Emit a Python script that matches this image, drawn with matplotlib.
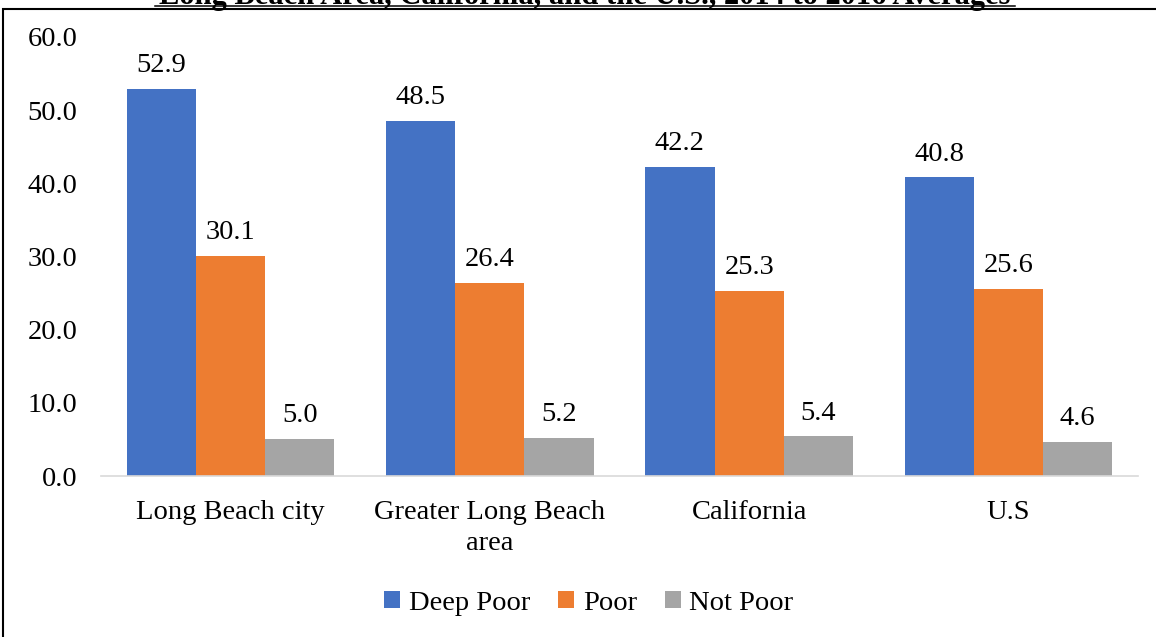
import matplotlib.pyplot as plt
import numpy as np
from matplotlib.patches import Rectangle

plt.rcParams['font.family'] = ['Liberation Serif', 'DejaVu Serif']

areas = ["Long Beach city", "Greater Long Beach\narea", "California", "U.S"]
deep_poor = [52.9, 48.5, 42.2, 40.8]
poor = [30.1, 26.4, 25.3, 25.6]
not_poor = [5.0, 5.2, 5.4, 4.6]

series = [("Deep Poor", deep_poor, "#4472C4"),
          ("Poor", poor, "#ED7D31"),
          ("Not Poor", not_poor, "#A5A5A5")]

fs = 20.5
fig = plt.figure(figsize=(11.56, 6.37), dpi=100)
ax = fig.add_axes([101/1156, 1 - 476/637, 1037/1156, 439/637])

x = np.arange(len(areas))
w = 0.267
for i, (name, vals, col) in enumerate(series):
    pos = x + (i - 1) * w
    ax.bar(pos, vals, w, color=col, label=name)
    for p, v in zip(pos, vals):
        ax.text(p, v + 1.5, f"{v:.1f}", ha='center', va='bottom', fontsize=fs)

ax.set_xlim(-0.5, 3.5)
ax.set_ylim(0, 60)
ax.set_yticks(np.arange(0, 61, 10))
ax.set_yticklabels([f"{t:.1f}" for t in np.arange(0, 61, 10)], fontsize=fs)
ax.set_xticks(x)
ax.set_xticklabels(areas, fontsize=fs, linespacing=1.35)
ax.tick_params(axis='x', length=0, pad=17)
ax.tick_params(axis='y', length=0, pad=17)
for s in ['top', 'right', 'left']:
    ax.spines[s].set_visible(False)
ax.spines['bottom'].set_color('#D9D9D9')
ax.spines['bottom'].set_linewidth(1.2)

ax.legend(loc='center', bbox_to_anchor=(589/1156, 1 - 603/637), bbox_transform=fig.transFigure,
          ncol=3, frameon=False, fontsize=fs, handlelength=0.55, handleheight=0.55,
          handletextpad=0.3, columnspacing=1.0)

# page frame and the clipped heading above it
fig.patches.append(Rectangle((3/1156, -0.1), 1.2, 1 - 9/637 + 0.1, transform=fig.transFigure,
                             fill=False, edgecolor='black', linewidth=1.5))
fig.text(585/1156, 1 - 4/637, "Long Beach Area, California, and the U.S., 2014 to 2016 Averages",
         ha='center', va='baseline', fontsize=22, fontweight='bold')
fig.add_artist(plt.Line2D([155/1156, 1015/1156], [1 - 5.5/637, 1 - 5.5/637], color='black', linewidth=1.1))

fig.savefig("out.png", dpi=100)
